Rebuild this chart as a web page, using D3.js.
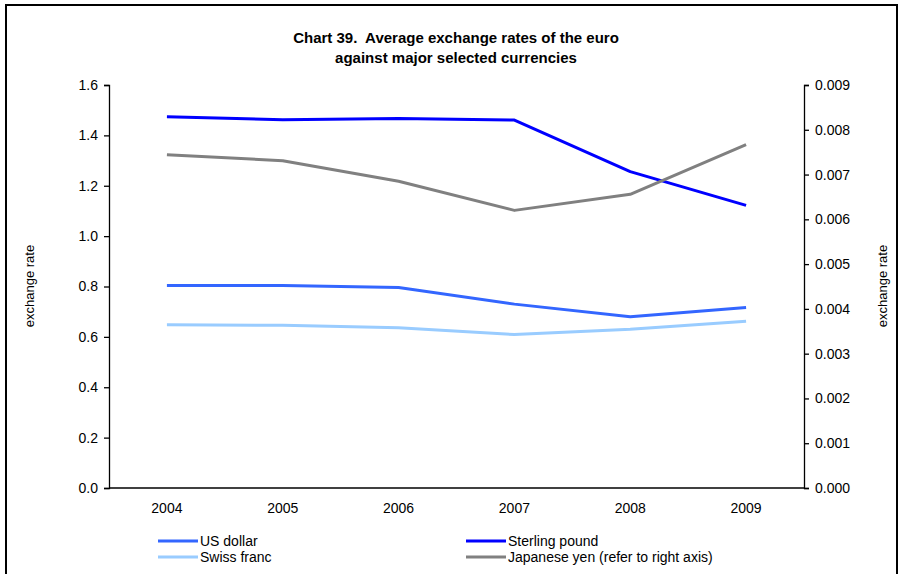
<!DOCTYPE html>
<html><head><meta charset="utf-8">
<script src="https://cdn.jsdelivr.net/npm/d3@7"></script>
<style>
body{margin:0;background:#fff;}
svg text{font-family:"Liberation Sans",Arial,sans-serif;fill:#000;}
</style></head>
<body><svg id="c" width="902" height="574"></svg>
<script>
const years = ["2004","2005","2006","2007","2008","2009"];
const usDollar = [0.804, 0.804, 0.796, 0.730, 0.680, 0.717];
const sterling = [1.474, 1.462, 1.467, 1.461, 1.256, 1.122];
const swissFranc = [0.648, 0.646, 0.636, 0.609, 0.630, 0.662];
const japaneseYen = [0.00744, 0.00731, 0.00685, 0.00620, 0.00656, 0.00767];
const leftTicks = [0,0.2,0.4,0.6,0.8,1.0,1.2,1.4,1.6];
const rightTicks = [0,0.001,0.002,0.003,0.004,0.005,0.006,0.007,0.008,0.009];

const svg = d3.select("#c");
svg.append("rect").attr("x",6).attr("y",5).attr("width",891).attr("height",600)
  .attr("fill","none").attr("stroke","#000").attr("stroke-width",2);

const L=109, R=804, T=85, B=488;
const x = d3.scaleBand().domain(years).range([L,R]);
const yL = d3.scaleLinear().domain([0,1.6]).range([B,T]);
const yR = d3.scaleLinear().domain([0,0.009]).range([B,T]);
const cx = d => x(d)+x.bandwidth()/2;

svg.append("text").attr("x",456).attr("y",43).attr("text-anchor","middle")
  .style("font-size","15px").style("font-weight","bold").style("white-space","pre")
  .text("Chart 39.  Average exchange rates of the euro");
svg.append("text").attr("x",456).attr("y",63).attr("text-anchor","middle")
  .style("font-size","15px").style("font-weight","bold").text("against major selected currencies");

const gL = svg.append("g").attr("transform",`translate(${L},0)`)
  .call(d3.axisLeft(yL).tickValues(leftTicks).tickFormat(d3.format(".1f")).tickSize(5).tickPadding(6));
const gR = svg.append("g").attr("transform",`translate(${R},0)`)
  .call(d3.axisRight(yR).tickValues(rightTicks).tickFormat(d3.format(".3f")).tickSize(5).tickPadding(6));
const gX = svg.append("g").attr("transform",`translate(0,${B})`)
  .call(d3.axisBottom(x).tickSize(0).tickPadding(15));
[gL,gR,gX].forEach(g=>{
  g.selectAll("text").style("font-size","14px").attr("fill","#000");
  g.selectAll("line,path").attr("stroke","#000").attr("stroke-width",1.3);
});
gX.select(".domain").attr("d",`M${L},0H${R}`);

svg.append("text").attr("transform","translate(34,286) rotate(-90)").attr("text-anchor","middle")
  .style("font-size","13px").text("exchange rate");
svg.append("text").attr("transform","translate(887,286) rotate(-90)").attr("text-anchor","middle")
  .style("font-size","13px").text("exchange rate");

const series = [
  {name:"US dollar", vals:usDollar, color:"#3366FF", y:yL},
  {name:"Swiss franc", vals:swissFranc, color:"#99CCFF", y:yL},
  {name:"Sterling pound", vals:sterling, color:"#0000FF", y:yL},
  {name:"Japanese yen (refer to right axis)", vals:japaneseYen, color:"#808080", y:yR}
];
series.forEach(s=>{
  const line = d3.line().x((d,i)=>cx(years[i])).y(d=>s.y(d));
  svg.append("path").attr("d",line(s.vals)).attr("fill","none")
    .attr("stroke",s.color).attr("stroke-width",3).attr("stroke-linejoin","round");
});

const legendPos = [[158,541],[158,557],[466,541],[466,557]];
series.forEach((s,i)=>{
  const [lx,ly]=legendPos[i];
  svg.append("line").attr("x1",lx).attr("x2",lx+40).attr("y1",ly).attr("y2",ly)
    .attr("stroke",s.color).attr("stroke-width",3);
  svg.append("text").attr("x",lx+42).attr("y",ly+5).style("font-size","14px").text(s.name);
});
</script></body></html>
